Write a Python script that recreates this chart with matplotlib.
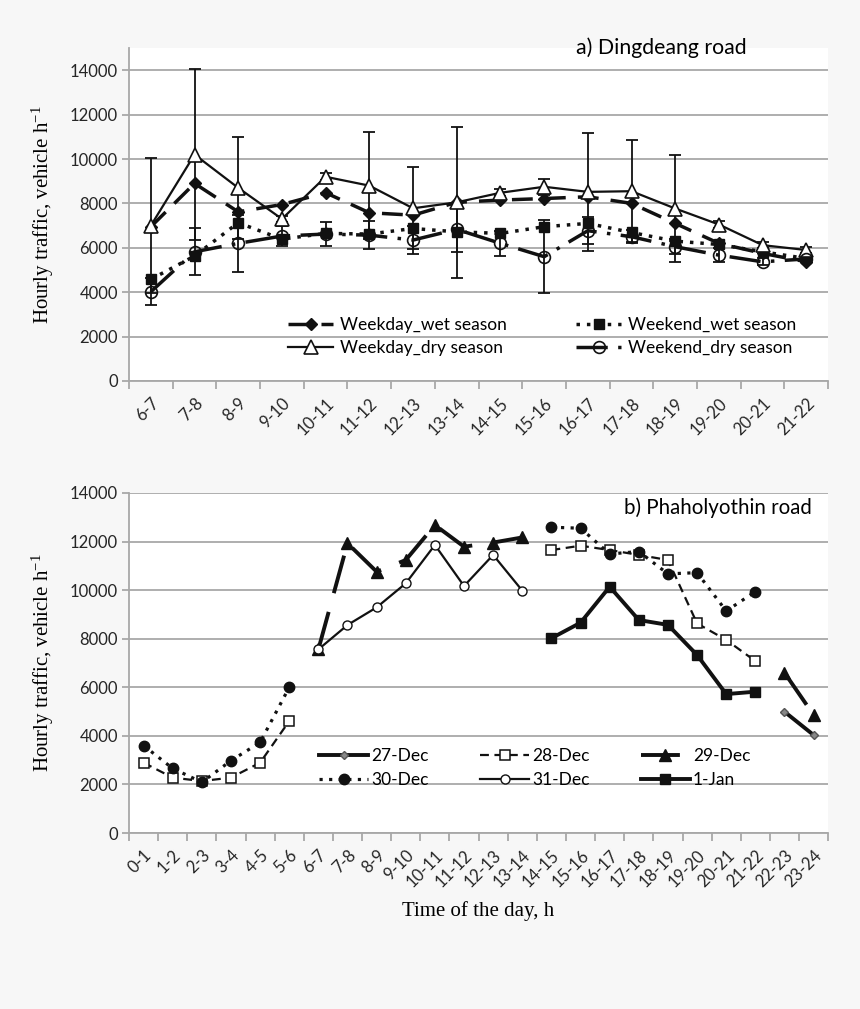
import numpy as np
import matplotlib
matplotlib.use("Agg")
import matplotlib.pyplot as plt

nan = np.nan

# top panel: Dingdeang road
hours_a = ["6-7", "7-8", "8-9", "9-10", "10-11", "11-12", "12-13", "13-14",
           "14-15", "15-16", "16-17", "17-18", "18-19", "19-20", "20-21", "21-22"]
weekday_wet = [6950, 8900, 7620, 7950, 8480, 7580, 7470, 8050,
               8150, 8220, 8300, 8000, 7100, 6200, 5750, 5370]
weekend_wet = [4580, 5630, 7130, 6390, 6650, 6620, 6870, 6720,
               6650, 6950, 7100, 6690, 6300, 6150, 5820, 5520]
weekday_dry = [7000, 10200, 8700, 7300, 9200, 8800, 7780, 8050,
               8480, 8750, 8520, 8550, 7770, 7050, 6120, 5900]
weekend_dry = [4020, 5820, 6200, 6530, 6620, 6570, 6350, 6830,
               6200, 5600, 6770, 6500, 6050, 5670, 5370, 5500]
weekday_dry_err = [3050, 3850, 2300, 150, 150, 2400, 1850, 3400,
                   150, 370, 2650, 2300, 2400, 150, 150, 150]
weekend_dry_err = [600, 1050, 1300, 450, 560, 640, 650, 1000,
                   550, 1650, 600, 300, 350, 300, 150, 150]

# bottom panel: Phaholyothin road
hours_b = ["0-1", "1-2", "2-3", "3-4", "4-5", "5-6", "6-7", "7-8", "8-9", "9-10",
           "10-11", "11-12", "12-13", "13-14", "14-15", "15-16", "16-17", "17-18",
           "18-19", "19-20", "20-21", "21-22", "22-23", "23-24"]
dec27 = [nan]*22 + [4995, 4035]
dec28 = [2895, 2280, 2140, 2280, 2895, 4610] + [nan]*8 + \
        [11650, 11830, 11650, 11450, 11240, 8630, 7950, 7080, nan, nan]
dec29 = [nan]*6 + [7560, 11930, 10760, 11240, 12680, 11790, 11960, 12170] + \
        [nan]*8 + [6600, 4860]
dec30 = [3600, 2660, 2090, 2980, 3730, 6000] + [nan]*8 + \
        [12590, 12550, 11490, 11590, 10670, 10720, 9140, 9940, nan, nan]
dec31 = [nan]*6 + [7560, 8565, 9290, 10280, 11860, 10170, 11450, 9980] + [nan]*10
jan1 = [nan]*14 + [8020, 8660, 10140, 8770, 8570, 7330, 5720, 5820, nan, nan]

sans = "Lato"
serif = "Liberation Serif"
plt.rcParams["mathtext.fontset"] = "custom"
plt.rcParams["mathtext.rm"] = serif
plt.rcParams["mathtext.it"] = serif + ":italic"
k = "#111111"
gridc = "#a8a8a8"
tickc = "#262626"

fig = plt.figure(figsize=(8.6, 10.09), dpi=100, facecolor="#f7f7f7")
ax1 = fig.add_axes([0.150, 0.6224, 0.813, 0.330])
ax2 = fig.add_axes([0.150, 0.1744, 0.813, 0.337])


def style_axis(ax, labels, ymax):
    n = len(labels)
    ax.set_facecolor("white")
    ax.set_xlim(-0.5, n - 0.5)
    ax.set_ylim(0, ymax)
    ax.set_yticks(np.arange(0, 14001, 2000))
    ax.set_yticklabels([str(v) for v in range(0, 14001, 2000)], fontfamily=sans, fontsize=12, color=tickc)
    ax.grid(axis="y", color=gridc, lw=1.3)
    ax.set_axisbelow(True)
    ax.set_xticks(np.arange(n))
    ax.set_xticklabels(labels, rotation=45, ha="right", rotation_mode="anchor",
                       fontfamily=sans, fontsize=12, color=tickc)
    ax.set_xticks(np.arange(n + 1) - 0.5, minor=True)
    ax.tick_params(axis="x", which="major", length=0, pad=10)
    ax.tick_params(axis="x", which="minor", length=6, color=gridc, width=1.3)
    ax.tick_params(axis="y", length=5, color=gridc, width=1.3, pad=3)
    for s in ["top", "right"]:
        ax.spines[s].set_visible(False)
    for s in ["left", "bottom"]:
        ax.spines[s].set_color(gridc)
        ax.spines[s].set_linewidth(1.3)
    ax.set_ylabel("Hourly traffic, vehicle h$^{\\mathrm{-1}}$", fontfamily=serif, fontsize=15, labelpad=10)


# --- panel a
xa = np.arange(len(hours_a))
style_axis(ax1, hours_a, 15000)
ax1.errorbar(xa, weekday_dry, yerr=weekday_dry_err, fmt="none", ecolor=k, elinewidth=1.3, capsize=4, capthick=1.3)
ax1.errorbar(xa, weekend_dry, yerr=weekend_dry_err, fmt="none", ecolor=k, elinewidth=1.3, capsize=4, capthick=1.3)
l1, = ax1.plot(xa, weekday_wet, color=k, lw=2.5, ls=(0, (6, 3.5)), marker="D", ms=6, mfc=k, mec=k,
               label="Weekday_wet season")
l2, = ax1.plot(xa, weekend_wet, color=k, lw=2.5, ls=(0, (1, 2)), marker="s", ms=6.5, mfc=k, mec=k,
               label="Weekend_wet season")
l3, = ax1.plot(xa, weekday_dry, color=k, lw=1.6, ls="-", marker="^", ms=10, mfc="white", mec=k, mew=1.2,
               label="Weekday_dry season")
l4, = ax1.plot(xa, weekend_dry, color=k, lw=2.5, ls=(0, (9, 3, 1, 3)), marker="o", ms=8.5, mfc="none", mec=k,
               mew=1.2, label="Weekend_dry season")
ax1.legend(handles=[l1, l3, l2, l4], ncol=2, loc="upper left", bbox_to_anchor=(0.205, 0.24),
           frameon=False, prop={"family": sans, "size": 12.5}, handlelength=2.6,
           handletextpad=0.4, columnspacing=4.0, labelspacing=0.4)
ax1.text(0.884, 1.0, "a) Dingdeang road", transform=ax1.transAxes, ha="right", va="center",
         fontfamily=sans, fontsize=15.3)

# --- panel b
xb = np.arange(len(hours_b))
style_axis(ax2, hours_b, 14000)
m1, = ax2.plot(xb, dec27, color=k, lw=2.8, ls="-", marker="D", ms=4.5, mfc="#888888", mec="#555555",
               label="27-Dec")
m2, = ax2.plot(xb, dec28, color=k, lw=1.6, ls=(0, (4, 2.5)), marker="s", ms=6.5, mfc="white", mec=k,
               mew=1.1, label="28-Dec")
m3, = ax2.plot(xb, dec29, color=k, lw=2.8, ls=(0, (10, 5)), marker="^", ms=8, mfc=k, mec=k,
               label="29-Dec")
m4, = ax2.plot(xb, dec30, color=k, lw=2.3, ls=(0, (1, 2)), marker="o", ms=7.5, mfc=k, mec=k,
               label="30-Dec")
m5, = ax2.plot(xb, dec31, color=k, lw=1.6, ls="-", marker="o", ms=6.5, mfc="white", mec=k, mew=1.0,
               label="31-Dec")
m6, = ax2.plot(xb, jan1, color=k, lw=2.8, ls="-", marker="s", ms=7, mfc=k, mec=k,
               label="1-Jan")
ax2.legend(handles=[m1, m4, m2, m5, m3, m6], ncol=3, loc="upper left", bbox_to_anchor=(0.25, 0.295),
           frameon=False, prop={"family": sans, "size": 12.5}, handlelength=2.8,
           handletextpad=0.2, columnspacing=2.95, labelspacing=0.45)
ax2.text(0.977, 0.958, "b) Phaholyothin road", transform=ax2.transAxes, ha="right", va="center",
         fontfamily=sans, fontsize=14.8)
ax2.set_xlabel("Time of the day, h", fontfamily=serif, fontsize=15, labelpad=8)

fig.savefig("out.png", dpi=100, facecolor=fig.get_facecolor())
